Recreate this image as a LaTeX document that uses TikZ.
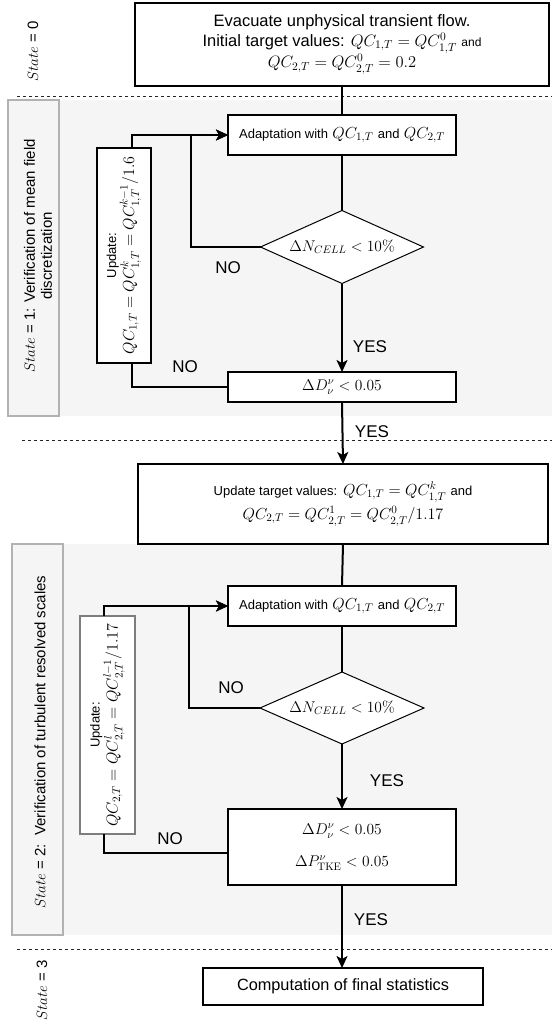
\RequirePackage{fix-cm}
\documentclass[tikz,border=0pt]{standalone}
\usepackage[no-math]{fontspec}
\setmainfont{Liberation Sans}
\usepackage{amsmath}
\usetikzlibrary{arrows.meta,shapes.geometric,calc}
\definecolor{bgray}{RGB}{245,245,245}
\definecolor{lgray}{RGB}{178,178,178}
\definecolor{mgray}{RGB}{125,125,125}
\newcommand{\fs}[2]{\fontsize{#1}{#2}\selectfont}
\begin{document}
\begin{tikzpicture}[x=1pt,y=-1pt,
  every node/.style={inner sep=0pt, outer sep=0pt},
  box/.style={draw=black, line width=1.2pt, fill=white, align=center},
  ubox/.style={draw=black, line width=1.2pt, fill=white, align=center, rotate=90},
  lbox/.style={draw=lgray, line width=1.2pt, fill=bgray, rotate=90},
  dia/.style={diamond, draw=black, line width=1pt, fill=white, shape aspect=2.2},
  conn/.style={line width=2pt},
  arr/.style={line width=2pt, -{Stealth[length=12pt,width=11pt,inset=3pt]}},
  yn/.style={font=\fs{17}{20}},
  stlab/.style={rotate=90, align=center, font=\fs{15}{17}},
  sepline/.style={line width=0.9pt, dash pattern=on 3pt off 3pt, draw=black!85}
]
\useasboundingbox (0,0) rectangle (552,1028);

% backgrounds
\fill[bgray] (8,100) rectangle (552,416);
\fill[bgray] (12,544) rectangle (552,935);
\node[lbox, minimum width=316, minimum height=51] (s1) at (33.5,258) {};
\node[lbox, minimum width=391, minimum height=51] (s2) at (37.5,739.5) {};

% separators
\draw[sepline] (17,96) -- (552,96);
\draw[sepline] (22,440) -- (552,440);
\draw[sepline] (17,949) -- (552,949);

% state labels
\node[stlab] (st0) at (33,51) {$State$ = 0};
\node[stlab] (st1) at (38,256) {$State$ = 1: Verification of mean field\\discretization};
\node[stlab] (st2) at (40,742) {$State$ = 2:\ \ Verification of turbulent resolved scales};
\node[stlab] (st3) at (42,990) {$State$ = 3};

% main boxes
\node[box, minimum width=414, minimum height=83, font=\fs{16.5}{20}] (init) at (342,44.5)
  {Evacuate unphysical transient flow.\\ Initial target values: $QC_{1,T}=QC^{0}_{1,T}$ {\fs{12}{14}and}\\ $QC_{2,T}=QC^{0}_{2,T}=0.2$};

\node[box, minimum width=228, minimum height=40, font=\fs{16}{19}] (ad1) at (342,135)
  {{\fs{13}{16}Adaptation with} $QC_{1,T}$ {\fs{13}{16}and} $QC_{2,T}$};
\node[dia, minimum width=163, minimum height=73, font=\fs{15.5}{18}] (d1) at (342,247)
  {$\Delta N_{CELL} < 10\%$};
\node[box, minimum width=228, minimum height=30, font=\fs{15.5}{18}] (v1) at (342,387)
  {$\Delta D^{\nu}_{\nu} < 0.05$};
\node[ubox, minimum width=215, minimum height=54, font=\fs{16}{18}] (u1) at (124,255.5)
  {{\fs{13}{15}Update:}\\ $QC_{1,T}=QC^{k}_{1,T}=QC^{k-1}_{1,T}/1.6$};

\node[box, minimum width=410, minimum height=80, font=\fs{16}{24}] (upt) at (343,504)
  {{\fs{13}{15}Update target values:} $QC_{1,T}=QC^{k}_{1,T}$ {\fs{13}{15}and}\\ $QC_{2,T}=QC^{1}_{2,T}=QC^{0}_{2,T}/1.17$};

\node[box, minimum width=228, minimum height=40, font=\fs{16}{19}] (ad2) at (342,606)
  {{\fs{13}{16}Adaptation with} $QC_{1,T}$ {\fs{13}{16}and} $QC_{2,T}$};
\node[dia, minimum width=164, minimum height=72, font=\fs{15.5}{18}] (d2) at (342,708)
  {$\Delta N_{CELL} < 10\%$};
\node[box, minimum width=228, minimum height=76, font=\fs{15.5}{32}] (c2) at (342,847)
  {$\Delta D^{\nu}_{\nu} < 0.05$\\ $\Delta P^{\nu}_{\mathrm{TKE}} < 0.05$};
\node[ubox, draw=mgray, minimum width=218, minimum height=55, font=\fs{16}{18}] (u2) at (107.5,725)
  {{\fs{13}{15}Update:}\\ $QC_{2,T}=QC^{l}_{2,T}=QC^{l-1}_{2,T}/1.17$};

\node[box, minimum width=280, minimum height=37, font=\fs{16.3}{19}] (fin) at (343,986.5)
  {Computation of final statistics};

% helper coordinates
\coordinate (u1t) at ($(u1.north east)!0.65!(u1.south east)$);
\coordinate (u1b) at ($(u1.north west)!0.65!(u1.south west)$);
\coordinate (u2t) at ($(u2.north east)!0.44!(u2.south east)$);
\coordinate (u2b) at ($(u2.north west)!0.44!(u2.south west)$);
\coordinate (j1) at (191,135);
\coordinate (j2) at (189,606);
\coordinate (c2w) at ($(c2.west)+(0,6)$);

% connectors
\draw[conn] (init.south) -- (ad1.north);
\draw[conn] (ad1.south) -- (d1.north);
\draw[arr] (d1.south) -- (v1.north);
\draw[arr] (d1.west) -| (j1) -- (ad1.west);
\draw[arr] (u1t) |- (ad1.west);
\draw[conn] (v1.west) -| (u1b);
\draw[arr] (v1.south) -- (upt.north);

\draw[conn] (upt.south) -- (ad2.north);
\draw[conn] (ad2.south) -- (d2.north);
\draw[arr] (d2.south) -- (c2.north);
\draw[arr] (d2.west) -| (j2) -- (ad2.west);
\draw[arr] (u2t) |- (ad2.west);
\draw[conn] (c2w) -| (u2b);
\draw[arr] (c2.south) -- (c2.south |- fin.north);

% YES / NO labels
\node[yn] (no1) at (228,268) {NO};
\node[yn] (no2) at (185,367) {NO};
\node[yn] (yes1) at (370,347) {YES};
\node[yn] (yes2) at (372,432) {YES};
\node[yn] (no3) at (231,688) {NO};
\node[yn] (no4) at (170,839) {NO};
\node[yn] (yes3) at (387,781) {YES};
\node[yn] (yes4) at (371,920) {YES};
\end{tikzpicture}
\end{document}
